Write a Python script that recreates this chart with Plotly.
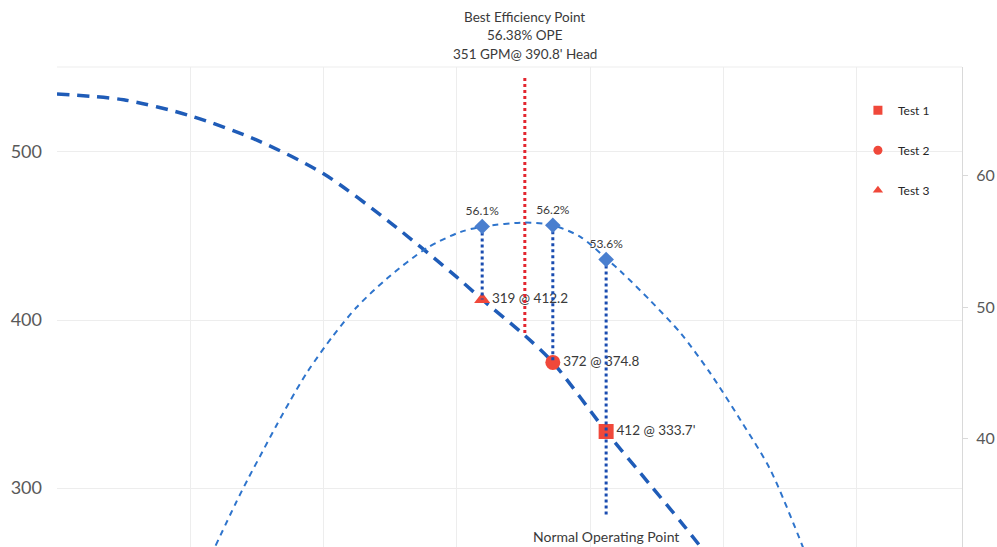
import plotly.graph_objects as go

# ---------------- data ----------------
# Head-capacity curve: flow (GPM) vs head (ft)
head_q = [0, 50, 100, 150, 200, 250, 300, 319, 351, 372, 412, 445, 468, 486]
head_h = [534.5, 531, 521.5, 507, 487, 458, 425.5, 412.2, 390.8, 374.8, 333.7, 302, 280, 262]

# Efficiency curve: flow (GPM) vs overall pump efficiency (%)
eff_q = [119, 134, 144, 154, 164, 175, 188, 207, 225, 248, 278, 303, 320, 351,
         372, 393, 413, 423, 445, 468, 490, 513, 535, 560]
eff_e = [31.9, 35.1, 37.1, 39.0, 40.9, 42.9, 45.1, 47.8, 50.0, 52.2, 54.5, 55.7, 56.1, 56.4,
         56.2, 55.3, 53.6, 52.7, 50.5, 48.0, 45.0, 41.4, 37.7, 31.7]

# Test points
test_names = ["Test 1", "Test 2", "Test 3"]
test_q = [412, 372, 319]
test_h = [333.7, 374.8, 412.2]
test_eff = [53.6, 56.2, 56.1]
test_symbols = ["square", "circle", "triangle-up"]
test_labels = ["412 @ 333.7'", "372 @ 374.8", "319 @ 412.2"]

# Best efficiency point
bep_q = 351
bep_eff = 56.38
bep_h = 390.8
bep_line_top = 544

# Normal operating point drop line bottom (head units)
nop_line_bottom = 284

# Axis ranges / ticks
x_range = [0, 679]
head_range = [265, 550.5]
eff_range = [31.8, 68.2]
head_ticks = [300, 400, 500]
eff_ticks = [40, 50, 60]

# ---------------- styles ----------------
FONT = "Lato, 'Open Sans', sans-serif"
BLUE_HEAD = "#1F5CB8"
BLUE_EFF = "#2E74CC"
BLUE_DIAMOND = "#4A7FCF"
BLUE_DROP = "#1A4CB0"
RED = "#F0483A"
RED_LINE = "#E3262F"
TEXT = "#3A3A3A"
GRID = "#EDEDED"


def eff_to_head(e):
    """Map a value on the efficiency axis to the head axis scale."""
    return head_range[0] + (e - eff_range[0]) * (head_range[1] - head_range[0]) / (eff_range[1] - eff_range[0])


fig = go.Figure()

# Head curve
fig.add_trace(go.Scatter(
    x=head_q, y=head_h, mode="lines", showlegend=False, hoverinfo="skip",
    line=dict(color=BLUE_HEAD, width=3.5, dash="12px,8px", shape="spline", smoothing=0.8),
    yaxis="y"))

# Test markers with labels
fig.add_trace(go.Scatter(
    x=test_q, y=test_h, mode="markers+text", showlegend=False,
    text=test_labels, textposition="middle right",
    textfont=dict(family=FONT, size=13.5, color=TEXT),
    marker=dict(symbol=test_symbols, size=[15, 15, 14], color=RED, opacity=1,
                line=dict(width=0)),
    yaxis="y"))

# Drop lines from efficiency diamonds to test points
for i, q in enumerate(test_q):
    bottom = nop_line_bottom if test_names[i] == "Test 1" else test_h[i]
    fig.add_trace(go.Scatter(
        x=[q, q], y=[eff_to_head(test_eff[i]), bottom], mode="lines",
        showlegend=False, hoverinfo="skip",
        line=dict(color=BLUE_DROP, width=3, dash="dot"), yaxis="y"))

# BEP red line
fig.add_trace(go.Scatter(
    x=[bep_q, bep_q], y=[bep_line_top, bep_h], mode="lines", showlegend=False,
    hoverinfo="skip", line=dict(color=RED_LINE, width=3, dash="dot"), yaxis="y"))

# Efficiency curve
fig.add_trace(go.Scatter(
    x=eff_q, y=eff_e, mode="lines", showlegend=False, hoverinfo="skip",
    line=dict(color=BLUE_EFF, width=2, dash="6px,5px", shape="spline", smoothing=0.8),
    yaxis="y2"))

# Efficiency diamonds
fig.add_trace(go.Scatter(
    x=test_q, y=test_eff, mode="markers+text", showlegend=False,
    text=[f"{v}%" for v in test_eff], textposition="top center",
    textfont=dict(family=FONT, size=12, color=TEXT),
    marker=dict(symbol="diamond", size=12, color=BLUE_DIAMOND, opacity=1),
    yaxis="y2"))

# Legend-only entries
for i, name in enumerate(test_names):
    fig.add_trace(go.Scatter(
        x=[None], y=[None], mode="markers", name=name, legendgroup=f"g{i}",
        marker=dict(symbol=test_symbols[i], size=9, color=RED)))

annotations = [
    dict(x=bep_q, xref="x", y=1, yref="paper", yanchor="middle", yshift=50,
         text="Best Efficiency Point", showarrow=False,
         font=dict(family=FONT, size=13.5, color=TEXT)),
    dict(x=bep_q, xref="x", y=1, yref="paper", yanchor="middle", yshift=32,
         text=f"{bep_eff}% OPE", showarrow=False,
         font=dict(family=FONT, size=13.5, color=TEXT)),
    dict(x=bep_q, xref="x", y=1, yref="paper", yanchor="middle", yshift=13,
         text=f"{bep_q} GPM@ {bep_h}' Head", showarrow=False,
         font=dict(family=FONT, size=13.5, color=TEXT)),
    dict(x=test_q[0], xref="x", y=0, yref="paper", yanchor="middle", yshift=11,
         text="Normal Operating Point", showarrow=False,
         font=dict(family=FONT, size=14, color=TEXT)),
]

fig.update_layout(
    width=997, height=547,
    margin=dict(l=57, r=35, t=67, b=0, autoexpand=False),
    paper_bgcolor="white", plot_bgcolor="white",
    font=dict(family=FONT, color="#595959"),
    xaxis=dict(range=x_range, tick0=0, dtick=100, showticklabels=False,
               showgrid=True, gridcolor=GRID, gridwidth=1, zeroline=False,
               showline=False, ticks=""),
    yaxis=dict(range=head_range, tickvals=head_ticks, showgrid=True,
               gridcolor=GRID, zeroline=False, showline=False, ticks="",
               tickfont=dict(family=FONT, size=18, color="#595959"),
               ticklabelstandoff=14, automargin=False),
    yaxis2=dict(range=eff_range, tickvals=eff_ticks, overlaying="y", side="right",
                showgrid=False, zeroline=False, showline=True, linecolor="#D9D9D9",
                ticks="outside", ticklen=5, tickcolor="#D9D9D9",
                tickfont=dict(family=FONT, size=16, color="#595959"),
                ticklabelstandoff=5, automargin=False),
    legend=dict(x=0.885, y=0.94, xanchor="left", yanchor="top",
                bgcolor="rgba(0,0,0,0)", tracegroupgap=21,
                font=dict(family=FONT, size=12, color="#262626")),
    annotations=annotations,
    shapes=[dict(type="line", xref="paper", yref="paper", x0=0, x1=1, y0=1, y1=1,
                 line=dict(color=GRID, width=1), layer="below")],
)

fig.write_html("out.html")
